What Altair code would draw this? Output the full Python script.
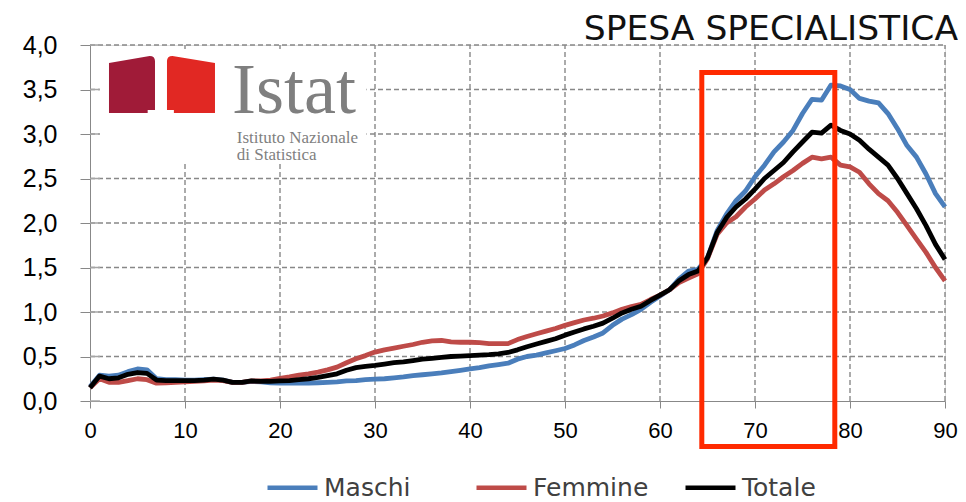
import altair as alt
import pandas as pd

# ---- data ----
ages = list(range(91))
maschi = [0.16, 0.29, 0.28, 0.29, 0.33, 0.36, 0.35, 0.25, 0.24, 0.24,
          0.235, 0.235, 0.24, 0.245, 0.235, 0.21, 0.21, 0.22, 0.215, 0.205,
          0.20, 0.20, 0.20, 0.20, 0.205, 0.21, 0.215, 0.225, 0.23, 0.24,
          0.245, 0.25, 0.26, 0.27, 0.285, 0.295, 0.305, 0.315, 0.33, 0.345,
          0.36, 0.375, 0.395, 0.41, 0.425, 0.47, 0.50, 0.515, 0.54, 0.565,
          0.59, 0.63, 0.68, 0.72, 0.765, 0.85, 0.92, 0.97, 1.03, 1.11,
          1.18, 1.25, 1.37, 1.46, 1.48, 1.61, 1.91, 2.10, 2.25, 2.36,
          2.52, 2.65, 2.80, 2.91, 3.04, 3.23, 3.39, 3.38, 3.55, 3.54,
          3.50, 3.40, 3.37, 3.35, 3.23, 3.06, 2.87, 2.74, 2.55, 2.33,
          2.18]
femmine = [0.15, 0.25, 0.21, 0.21, 0.23, 0.25, 0.24, 0.20, 0.205, 0.21,
           0.215, 0.22, 0.225, 0.235, 0.23, 0.21, 0.21, 0.225, 0.225, 0.235,
           0.255, 0.27, 0.29, 0.305, 0.325, 0.35, 0.38, 0.43, 0.475, 0.51,
           0.55, 0.575, 0.595, 0.615, 0.635, 0.66, 0.675, 0.68, 0.665, 0.66,
           0.66, 0.655, 0.645, 0.645, 0.645, 0.69, 0.725, 0.755, 0.785, 0.815,
           0.85, 0.88, 0.91, 0.93, 0.955, 0.99, 1.03, 1.06, 1.085, 1.14,
           1.19, 1.25, 1.33, 1.38, 1.43, 1.60, 1.87, 2.00, 2.07, 2.18,
           2.27, 2.37, 2.44, 2.52, 2.59, 2.67, 2.74, 2.72, 2.74, 2.65,
           2.63, 2.57, 2.44, 2.33, 2.25, 2.12, 1.97, 1.82, 1.67, 1.50,
           1.35]
totale = [0.15, 0.28, 0.25, 0.26, 0.30, 0.32, 0.31, 0.235, 0.23, 0.23,
          0.23, 0.23, 0.235, 0.245, 0.235, 0.21, 0.21, 0.225, 0.22, 0.22,
          0.225, 0.23, 0.24, 0.25, 0.265, 0.285, 0.305, 0.345, 0.375, 0.39,
          0.40, 0.415, 0.43, 0.44, 0.455, 0.47, 0.48, 0.49, 0.50, 0.505,
          0.51, 0.515, 0.52, 0.53, 0.545, 0.575, 0.61, 0.64, 0.67, 0.70,
          0.74, 0.775, 0.81, 0.84, 0.875, 0.93, 0.99, 1.03, 1.065, 1.13,
          1.19, 1.25, 1.35, 1.42, 1.46, 1.61, 1.89, 2.06, 2.18, 2.27,
          2.38, 2.50, 2.59, 2.68, 2.80, 2.91, 3.02, 3.01, 3.10, 3.04,
          3.00, 2.93, 2.83, 2.74, 2.65, 2.50, 2.33, 2.16, 1.97, 1.76,
          1.59]
series_names = ["Maschi", "Femmine", "Totale"]
series_colors = ["#4a7ebb", "#be4b48", "#000000"]
x_ticks = list(range(0, 91, 10))
y_ticks = [0, 0.5, 1, 1.5, 2, 2.5, 3, 3.5, 4]
title_text = "SPESA SPECIALISTICA"

# highlight box (data coordinates: age range, value range)
box = {"x1": [64.4], "x2": [78.4], "y1": [3.69], "y2": [-0.51]}
# logo pieces (data coordinates)
logo_bg = {"x1": [1.05], "x2": [29.1], "y1": [3.945], "y2": [2.674]}
logo_blocks = {"x": [4.42, 10.63], "y": [3.557, 3.557], "part": ["dark", "light"]}
logo_texts = {"x": [14.95, 15.45, 15.45], "y": [3.236, 2.899, 2.708],
              "t": ["Istat", "Istituto Nazionale", "di Statistica"],
              "size": ["big", "small", "small"]}

rows = []
for name, vals in zip(series_names, [maschi, femmine, totale]):
    for a, v in zip(ages, vals):
        rows.append({"eta": a, "valore": v, "serie": name})
df = pd.DataFrame(rows)

xscale = alt.Scale(domain=[0, 90], nice=False)
yscale = alt.Scale(domain=[0, 4], nice=False)
GRID = dict(stroke="#888888", strokeDash=[5, 3], strokeWidth=1.4)

# grid lines from tick values
vgrid = alt.Chart(pd.DataFrame({"gx": x_ticks[1:], "y0": [0] * 9, "y1": [4] * 9})).mark_rule(**GRID).encode(
    x=alt.X("gx:Q", scale=xscale, title=None), y=alt.Y("y0:Q", scale=yscale, title=None), y2="y1")
hgrid = alt.Chart(pd.DataFrame({"gy": y_ticks[1:], "x0": [0] * 8, "x1": [90] * 8})).mark_rule(**GRID).encode(
    y=alt.Y("gy:Q", scale=yscale, title=None), x=alt.X("x0:Q", scale=xscale, title=None), x2="x1")
# inner half of the y ticks (ticks cross the axis line)
itick = alt.Chart(pd.DataFrame({"gy": y_ticks, "x0": [0] * 9, "x1": [1.05] * 9})).mark_rule(
    stroke="#a6a6a6", strokeWidth=1.5).encode(
    y=alt.Y("gy:Q", scale=yscale, title=None), x=alt.X("x0:Q", scale=xscale, title=None), x2="x1")

lines = alt.Chart(df).mark_line(strokeWidth=4.8, strokeJoin="round").encode(
    x=alt.X("eta:Q", scale=xscale, title=None,
            axis=alt.Axis(values=x_ticks, grid=False, labelFlush=False,
                          labelOverlap=False, tickSize=7, labelPadding=12,
                          labelFontSize=22)),
    y=alt.Y("valore:Q", scale=yscale, title=None,
            axis=alt.Axis(values=y_ticks, grid=False, tickSize=10,
                          labelPadding=23, labelFontSize=25,
                          labelExpr="replace(format(datum.value, '.1f'), '.', ',')")),
    color=alt.Color("serie:N", sort=series_names,
                    scale=alt.Scale(domain=series_names, range=series_colors),
                    legend=alt.Legend(title=None, orient="none", direction="horizontal",
                                      columns=3, gridAlign="all", columnPadding=27,
                                      legendX=175, legendY=415, padding=0,
                                      symbolType="stroke", symbolSize=2500,
                                      symbolStrokeWidth=4.5, labelOffset=4,
                                      labelFont="DejaVu Sans", labelFontSize=25,
                                      labelColor="#404040", labelLimit=300)),
    order=alt.Order("eta:Q"),
)

bg = alt.Chart(pd.DataFrame(logo_bg)).mark_rect(color="white").encode(
    x=alt.X("x1:Q", scale=xscale, title=None), x2="x2",
    y=alt.Y("y1:Q", scale=yscale, title=None), y2="y2")

blocks = alt.Chart(pd.DataFrame(logo_blocks)).transform_filter(
    "datum.part == 'dark'").mark_point(
    shape="M-0.807,-0.754 L0.62,-1 Q0.807,-1 0.807,-0.82 L0.807,0.9 L0.55,0.9 L0.55,1 L-0.807,1 Z",
    filled=True, size=3249, opacity=1, color="#a01b38").encode(
    x=alt.X("x:Q", scale=xscale, title=None),
    y=alt.Y("y:Q", scale=yscale, title=None))
blocks2 = alt.Chart(pd.DataFrame(logo_blocks)).transform_filter(
    "datum.part == 'light'").mark_point(
    shape="M-0.842,-0.82 Q-0.842,-1 -0.65,-1 L0.842,-0.754 L0.842,1 L-0.6,1 L-0.6,0.9 L-0.842,0.9 Z",
    filled=True, size=3249, opacity=1, color="#e12823").encode(
    x=alt.X("x:Q", scale=xscale, title=None),
    y=alt.Y("y:Q", scale=yscale, title=None))

tdf = pd.DataFrame(logo_texts)
big = alt.Chart(tdf).transform_filter("datum.size == 'big'").mark_text(
    font="Liberation Serif", fontSize=72, color="#7f7f7f", align="left",
    baseline="alphabetic").encode(
    x=alt.X("x:Q", scale=xscale, title=None),
    y=alt.Y("y:Q", scale=yscale, title=None), text="t:N")
small = alt.Chart(tdf).transform_filter("datum.size == 'small'").mark_text(
    font="Liberation Serif", fontSize=17, color="#7f7f7f", align="left",
    baseline="alphabetic").encode(
    x=alt.X("x:Q", scale=xscale, title=None),
    y=alt.Y("y:Q", scale=yscale, title=None), text="t:N")

rect = alt.Chart(pd.DataFrame(box)).mark_rect(
    fillOpacity=0, stroke="#ff2a00", strokeWidth=5).encode(
    x=alt.X("x1:Q", scale=xscale, title=None), x2="x2",
    y=alt.Y("y1:Q", scale=yscale, title=None), y2="y2")

title = alt.Chart(pd.DataFrame({"tx": [x_ticks[-1]], "ty": [y_ticks[-1]], "t": [title_text]})).mark_text(
    font="DejaVu Sans", fontSize=34.5, fontWeight="normal", color="#111111", align="right",
    baseline="alphabetic", dx=13, dy=-5).encode(
    x=alt.X("tx:Q", scale=xscale, title=None),
    y=alt.Y("ty:Q", scale=yscale, title=None), text="t:N")

chart = alt.layer(vgrid, hgrid, itick, bg, blocks, blocks2, big, small, lines, rect, title).properties(
    width=855, height=356,
    autosize=alt.AutoSizeParams(type="none"),
    padding={"left": 82, "top": 37, "right": 13, "bottom": 101},
).configure_view(stroke=None).configure_axis(
    domainColor="#a6a6a6", domainWidth=1.5, tickColor="#a6a6a6", tickWidth=1.5,
    labelFont="DejaVu Sans", labelColor="#404040",
).configure(background="white")

chart.save("out.html", embed_options={"renderer": "svg", "actions": False})
